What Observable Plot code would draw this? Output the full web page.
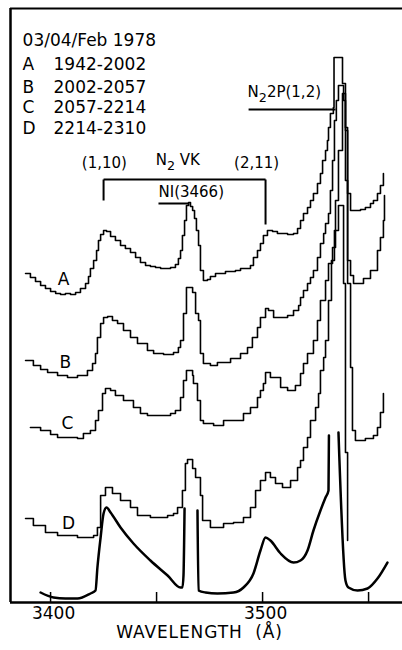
<!DOCTYPE html>
<html><head><meta charset="utf-8">
<script src="https://cdn.jsdelivr.net/npm/d3@7"></script>
<script src="https://cdn.jsdelivr.net/npm/@observablehq/plot@0.6"></script>
<style>body{margin:0;background:#fff}</style>
</head><body><div id="chart"></div>
<script>
// Wavelength (Å) and relative intensity (arbitrary units, offset per spectrum)
const lamA = [3388.2,3390.5,3392.9,3395.3,3397.6,3400.0,3402.4,3404.7,3407.0,3409.4,3411.8,3414.1,3416.5,3417.9,3418.8,3420.3,3421.7,3422.6,3423.6,3425.0,3426.4,3428.3,3430.6,3433.0,3435.3,3437.7,3440.1,3442.4,3444.8,3447.1,3449.5,3451.9,3454.2,3456.6,3458.9,3460.3,3461.3,3462.2,3463.2,3464.1,3465.1,3466.0,3467.0,3467.9,3468.8,3469.8,3470.7,3472.1,3474.0,3475.4,3477.8,3480.2,3482.5,3484.9,3487.2,3489.6,3491.9,3494.3,3495.7,3497.6,3499.0,3500.4,3502.3,3504.7,3507.0,3509.4,3511.8,3514.6,3516.5,3517.9,3519.3,3521.2,3522.6,3524.0,3525.9,3527.3,3528.3,3529.7,3530.6,3531.1,3532.0,3533.4,3533.7,3537.7,3539.1,3540.1,3541.5,3543.8,3546.2,3548.5,3550.9,3552.3,3554.2,3555.6,3557.0];
const intA = [329,325,321,317,314,311,309,308,309,308,310,314,319,326,334,342,352,362,368,372,371,366,362,357,354,350,345,340,337,336,335,334,334,335,338,344,352,367,382,397,400,396,392,384,372,357,332,322,323,326,329,329,331,331,332,334,334,337,345,352,359,367,372,371,369,369,368,369,374,382,389,395,402,409,419,429,442,452,462,475,489,495,545,519,475,409,392,392,393,395,399,402,409,417,429];

const lamB = [3388.2,3391.9,3395.3,3398.6,3403.3,3408.0,3412.7,3417.4,3419.8,3421.2,3422.1,3423.6,3425.0,3426.9,3429.2,3431.6,3434.4,3437.7,3441.0,3445.7,3448.6,3453.3,3458.0,3460.3,3461.3,3462.7,3464.1,3467.0,3468.4,3469.8,3470.7,3472.1,3475.4,3478.7,3484.9,3489.6,3492.9,3495.2,3497.6,3499.0,3501.4,3502.8,3505.2,3508.5,3511.8,3514.6,3517.0,3517.9,3519.3,3521.2,3522.6,3524.0,3525.9,3527.3,3528.8,3529.7,3531.1,3532.0,3533.0,3533.9,3534.8,3535.8,3538.2,3539.1,3540.1,3541.5,3542.9,3547.6,3550.9,3554.2,3555.6,3557.0,3557.5];
const intB = [242,237,233,230,227,225,227,232,239,249,265,279,285,286,282,279,272,265,259,252,249,248,250,255,262,289,315,310,289,282,249,239,237,240,244,249,255,265,275,285,294,292,285,285,287,292,297,305,312,319,325,332,345,359,369,379,389,412,442,482,502,517,502,422,342,327,319,324,332,352,365,382,407];

const lamC = [3390.5,3395.3,3400.0,3403.3,3408.0,3412.7,3415.5,3418.8,3421.2,3422.6,3424.5,3425.9,3428.3,3430.6,3434.4,3439.1,3442.4,3445.7,3451.9,3456.6,3458.9,3461.3,3462.7,3464.1,3467.0,3467.4,3469.3,3470.7,3472.1,3476.9,3481.6,3486.3,3491.0,3494.3,3497.6,3499.0,3500.4,3501.4,3503.7,3508.5,3511.8,3515.5,3517.9,3519.3,3521.2,3524.0,3525.9,3527.3,3529.7,3531.1,3533.0,3534.4,3535.8,3537.7,3539.1,3540.1,3541.5,3542.4,3543.8,3548.5,3552.3,3554.2,3555.6,3557.0];
const intC = [175,172,168,165,165,164,169,172,182,192,209,214,212,207,202,195,189,187,187,189,192,205,222,232,227,219,202,182,179,177,182,182,189,195,205,212,219,230,225,215,212,217,229,239,249,262,282,302,322,339,355,402,452,509,472,319,235,172,162,164,167,175,190,209];

const lamD = [3388.2,3391.9,3397.6,3403.3,3412.7,3420.3,3422.1,3423.6,3425.9,3429.2,3433.0,3437.7,3441.0,3447.1,3455.2,3458.0,3459.9,3462.2,3463.6,3464.6,3467.0,3468.4,3470.7,3471.7,3475.4,3481.6,3486.3,3491.0,3494.3,3496.7,3499.0,3501.4,3503.7,3506.1,3509.4,3513.2,3516.5,3517.9,3519.3,3521.2,3522.6,3525.0,3526.4,3527.3,3528.8,3529.7,3531.1,3532.5,3533.9,3535.8,3538.2,3539.1,3540.1];
const intD = [84,77,70,67,65,67,75,107,115,109,102,95,87,85,87,89,95,112,139,143,134,125,107,82,75,79,80,85,95,112,122,130,125,119,115,122,135,142,155,165,182,195,209,232,245,262,302,342,372,397,319,150,62];

// Computed spectrum (smooth); NaN marks where the drawn line breaks off
const lamM = [3395.3,3401.4,3407.0,3412.7,3418.8,3421.2,3422.1,3423.6,3425.0,3426.4,3428.3,3433.0,3439.1,3447.1,3455.2,3461.3,3462.2,3462.7,3463.2,3466.0,3469.3,3469.8,3473.1,3478.7,3486.3,3491.0,3495.7,3499.0,3501.4,3503.7,3508.5,3514.6,3517.9,3521.2,3524.0,3527.3,3529.7,3531.1,3531.3,3533.5,3535.8,3539.1,3540.5,3544.8,3549.5,3554.2,3558.9];
const intM = [10,5,4,4,9,12,35,65,89,95,90,75,59,42,27,15,15,27,94,NaN,92,12,10,9,10,15,29,52,65,62,49,40,42,52,72,92,105,112,167,NaN,170,22,15,12,14,24,40];

const xTicks = [3400,3450,3500,3550];
const xLabels = [3400,3500];
const dateText = "03/04/Feb 1978";
const legendKeys = ["A","B","C","D"];
const legendRanges = ["1942-2002","2002-2057","2057-2214","2214-2310"];

const toRows = (lam, val, s) => lam.map((l, i) => ({lam: l, I: val[i], s}));
const hist = [
  ...toRows(lamA, intA, "A"), ...toRows(lamB, intB, "B"),
  ...toRows(lamC, intC, "C"), ...toRows(lamD, intD, "D")
];
const model = toRows(lamM, intM, "M");

// annotation anchors (in Å / intensity units)
const curveLabels = [
  {lam: 3406.1, I: 323, t: "A"}, {lam: 3407.0, I: 240, t: "B"},
  {lam: 3408.0, I: 179, t: "C"}, {lam: 3408.5, I: 79, t: "D"}
];
const legendRowsI = [538, 515, 495, 474];
const legendRows = legendKeys.map((k, i) => ({k, r: legendRanges[i], I: legendRowsI[i]}));
const bandMid = [
  {lam: 3425.4, I: 439, t: "(1,10)"},
  {lam: 3460.0, I: 442, t: "N\u2082 VK"},
  {lam: 3497.2, I: 439, t: "(2,11)"}
];
const bandStart = [
  {lam: 3450.9, I: 410, t: "NI(3466)"},
  {lam: 3492.9, I: 510, t: "N\u20822P(1,2)"}
];
const bracket = [
  {x1: 3425.0, x2: 3501.4, y1: 423, y2: 423},
  {x1: 3425.0, x2: 3425.0, y1: 423, y2: 402},
  {x1: 3501.4, x2: 3501.4, y1: 423, y2: 378},
  {x1: 3450.9, x2: 3465.1, y1: 399, y2: 399},
  {x1: 3493.4, x2: 3534.4, y1: 493, y2: 493}
];

const font = "DejaVu Sans";
const chart = Plot.plot({
  width: 402, height: 650,
  marginLeft: 10, marginRight: 0, marginTop: 8, marginBottom: 48,
  x: {domain: [3381.1, 3566], axis: null},
  y: {domain: [0, 594], axis: null},
  style: {fontFamily: font, background: "#fff", color: "#000"},
  marks: [
    Plot.ruleY([594], {stroke: "#000", strokeWidth: 2}),
    Plot.ruleX([3381.1], {stroke: "#000", strokeWidth: 2.5}),
    Plot.ruleY([0], {stroke: "#000", strokeWidth: 2.5}),
    Plot.ruleX(xTicks, {y1: 0, y2: 10, stroke: "#000", strokeWidth: 1.5}),
    Plot.axisX({ticks: xLabels, tickSize: 0, tickPadding: 4, dx: 3, fontSize: 17, tickFormat: d => String(d), label: null}),
    Plot.text(["WAVELENGTH  (\u00c5)"], {frameAnchor: "bottom", dx: -7, dy: 30, lineAnchor: "middle", fontSize: 17, className: "xtitle"}),
    Plot.line(hist, {x: "lam", y: "I", z: "s", curve: "step-after", stroke: "#000", strokeWidth: 1.6}),
    Plot.line(model, {x: "lam", y: "I", curve: "monotone-x", stroke: "#000", strokeWidth: 2.5}),
    Plot.link(bracket, {x1: "x1", x2: "x2", y1: "y1", y2: "y2", stroke: "#000", strokeWidth: 2}),
    Plot.text(bandMid, {x: "lam", y: "I", text: "t", textAnchor: "middle", fontSize: 15}),
    Plot.text(bandStart, {x: "lam", y: "I", text: "t", textAnchor: "start", fontSize: 15}),
    Plot.text(curveLabels, {x: "lam", y: "I", text: "t", fontSize: 17}),
    Plot.text([dateText], {x: [3386.8], y: [562], textAnchor: "start", fontSize: 17}),
    Plot.text(legendRows, {x: () => 3386.8, y: "I", text: "k", textAnchor: "start", fontSize: 17}),
    Plot.text(legendRows, {x: () => 3401.4, y: "I", text: "r", textAnchor: "start", fontSize: 17})
  ]
});
// letter spacing on the axis title, and true subscripts for N2
d3.select(chart).selectAll(".xtitle text").style("letter-spacing", "0.9px");
d3.select(chart).selectAll("text").each(function() {
  const s = this.textContent;
  if (s.includes("\u2082") && this.children.length === 0) {
    const [a, b] = s.split("\u2082");
    const el = d3.select(this);
    el.text(null);
    el.append("tspan").text(a);
    el.append("tspan").attr("dy", "0.35em").style("font-size", "0.85em").text("2");
    el.append("tspan").attr("dy", "-0.35em").text(b);
  }
});
document.getElementById("chart").appendChild(chart);
</script>
</body></html>
